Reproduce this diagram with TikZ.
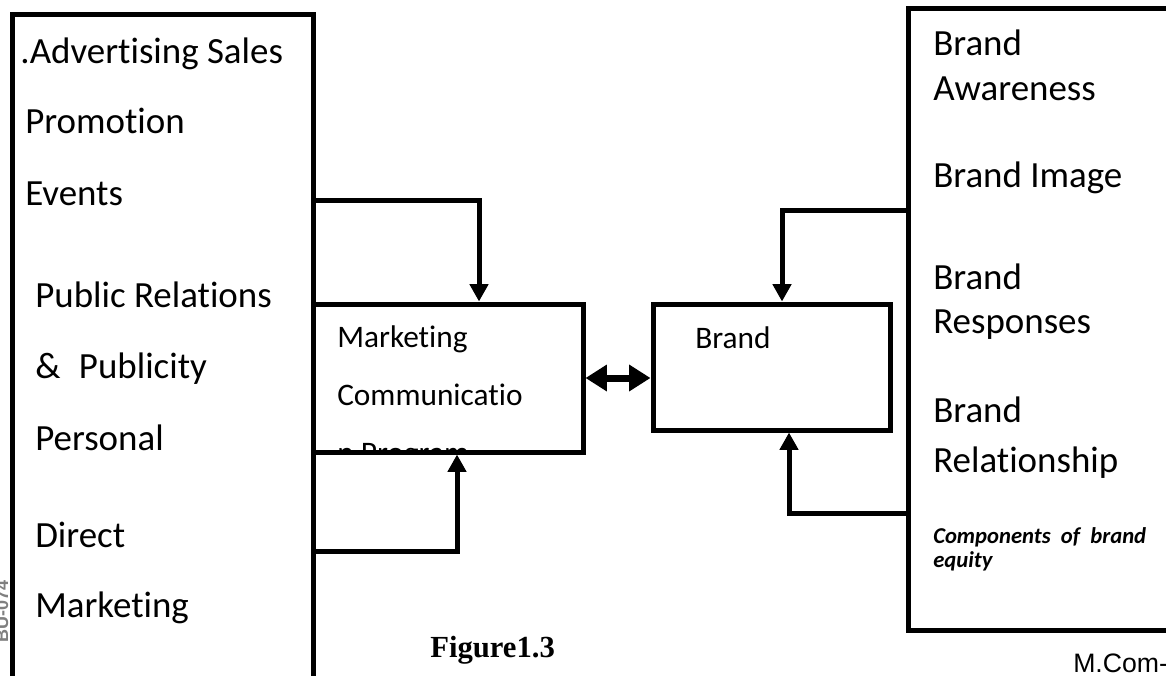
\documentclass[tikz,border=0pt]{standalone}
\usepackage{fontspec}
\setmainfont{Carlito}[Ligatures=NoCommon]
\newfontfamily\figfont{Liberation Serif}
\newfontfamily\pagefont{Liberation Sans}
\usepackage{tikz}
\usetikzlibrary{arrows.meta,positioning,calc}

\tikzset{
  box/.style={draw, rectangle, line width=3.75pt, inner sep=0pt},
  txt/.style={anchor=base west, inner sep=0pt, font=\fontsize{27.7}{32}\selectfont},
  smalltxt/.style={anchor=base west, inner sep=0pt, font=\fontsize{23.5}{28}\selectfont},
  link/.style={line width=3.75pt, -{Triangle[width=13.5pt,length=13pt]}},
  dbl/.style={line width=5.25pt, {Triangle[width=19pt,length=16pt]}-{Triangle[width=19pt,length=16pt]}}
}

\begin{document}
\begin{tikzpicture}[x=0.75pt, y=-0.75pt]
    \useasboundingbox (0,0) rectangle (1166,675);
    \clip (0,0) rectangle (1166,675);
    % Boxes
    \node[box, minimum width=225.75pt, minimum height=514.5pt] (tools) at (162.5,357) {};
    \node[box, minimum width=219pt, minimum height=466.5pt] (equity) at (1054,319) {};
    \node[box, minimum width=202.5pt, minimum height=111pt] (mcp) at (448,378) {};
    \node[box, minimum width=177.75pt, minimum height=94.5pt] (brand) at (771.5,367) {};
    % Left list
    \node[txt] (adv) at (20,63) {.Advertising Sales};
    \node[txt] (promo) at (25,133) {Promotion};
    \node[txt] (events) at (25,205) {Events};
    \node[txt] (pr) at (35,307) {Public Relations};
    \node[txt] (publ) at (35,378) {\&\hspace{0.5em}Publicity};
    \node[txt] (pers) at (35,450) {Personal};
    \node[txt] (direct) at (35,547) {Direct};
    \node[txt] (mkt) at (35,617) {Marketing};
    % Middle boxes
    \node[smalltxt] (mcp1) at (337,347) {Marketing};
    \node[smalltxt] (mcp2) at (337,405) {Communicatio};
    \begin{scope}
      \clip (mcp.north west) rectangle ([yshift=1.9pt]mcp.south east);
      \node[smalltxt] (mcp3) at (337,463) {n Program};
    \end{scope}
    \node[smalltxt] (brandtxt) at (695,348) {Brand};
    % Right list
    \node[txt] (aw1) at (933,55) {Brand};
    \node[txt] (aw2) at (933,100) {Awareness};
    \node[txt] (img) at (933,187) {Brand Image};
    \node[txt] (resp1) at (933,289) {Brand};
    \node[txt] (resp2) at (933,333) {Responses};
    \node[txt] (rel1) at (933,422) {Brand};
    \node[txt] (rel2) at (933,472) {Relationship};
    \node[anchor=base west, inner sep=0pt, font=\fontsize{17}{20}\selectfont\bfseries\itshape] (comp1) at (933,543) {Components\ \ of\ \ brand};
    \node[anchor=base west, inner sep=0pt, font=\fontsize{17}{20}\selectfont\bfseries\itshape] (comp2) at (933,567) {equity};
    % Connectors
    \draw[link] (tools.east |- 0,200) -| (mcp.north -| 479,0);
    \draw[link] (tools.east |- 0,551) -| (mcp.south -| 457,0);
    \draw[link] (equity.west |- 0,210) -| (brand.north -| 782,0);
    \draw[link] (equity.west |- 0,513) -| (brand.south -| 789,0);
    \draw[dbl] (mcp.east) -- (mcp.east -| brand.west);
    % Captions
    \node[anchor=base west, inner sep=0pt, font=\figfont\fontsize{23}{28}\selectfont\bfseries] (fig) at (430,657) {Figure1.3};
    \node[anchor=base west, inner sep=0pt, font=\pagefont\fontsize{20}{24}\selectfont] (mcom) at (1073,672) {M.Com-};
    \node[anchor=base west, inner sep=0pt, rotate=90, gray, font=\pagefont\bfseries\fontsize{13.5}{16}\selectfont] (bu) at (8,643) {BU-074};
\end{tikzpicture}
\end{document}
